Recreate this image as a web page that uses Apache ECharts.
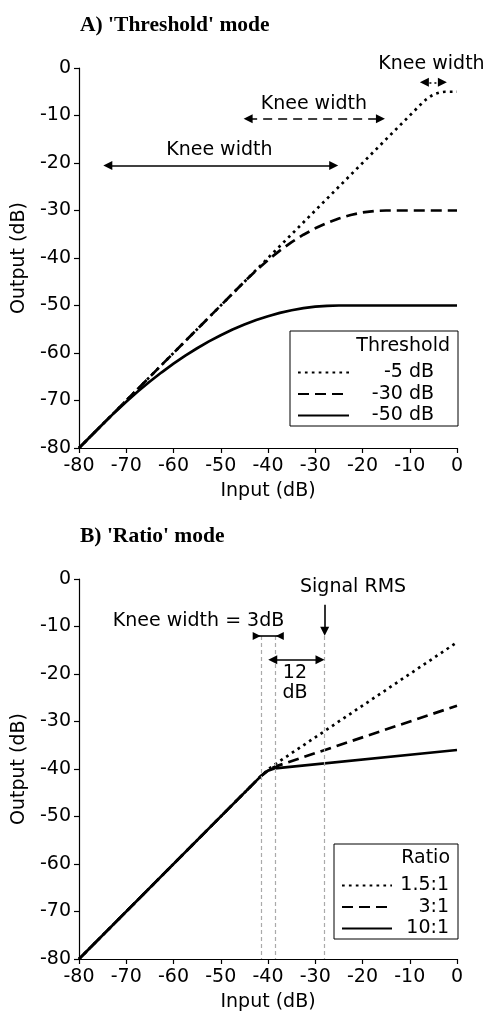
<!DOCTYPE html>
<html><head><meta charset="utf-8">
<script src="https://cdn.jsdelivr.net/npm/echarts@6/dist/echarts.min.js"></script>
<style>html,body{margin:0;padding:0;background:#fff}#c{width:489px;height:1013px}</style>
</head><body><div id="c"></div>
<script>
const FONT = 'DejaVu Sans';
// ---------- Panel A : 'Threshold' mode ----------
const thrM5_x  = [-80, -7.5, -6.5, -5.5, -5, -4.5, -3.5, -2.5, 0];
const thrM5_y  = [-80, -7.5, -6.6, -5.9, -5.63, -5.4, -5.1, -5, -5];
const thrM30_x = [-80, -45, -42.5, -40, -37.5, -35, -32.5, -30, -27.5, -25, -22.5, -20, -17.5, -15, 0];
const thrM30_y = [-80, -45, -42.6, -40.42, -38.44, -36.67, -35.1, -33.75, -32.6, -31.67, -30.94, -30.42, -30.1, -30, -30];
const thrM50_x = [-80, -75, -72.5, -70, -67.5, -65, -62.5, -60, -57.5, -55, -52.5, -50, -47.5, -45, -42.5, -40, -37.5, -35, -32.5, -30, -27.5, -25, 0];
const thrM50_y = [-80, -75, -72.56, -70.25, -68.06, -66, -64.06, -62.25, -60.56, -59, -57.56, -56.25, -55.06, -54, -53.06, -52.25, -51.56, -51, -50.56, -50.25, -50.06, -50, -50];
const thrNames = ['-5 dB', '-30 dB', '-50 dB'];
// knee-width arrows (from, to, level) and labels
const kneeArrowsA = [[-73.9, -26.1, -20.5], [-44.2, -16.2, -10.7], [-6.9, -3.1, -3]];
const kneeLabelsA = [[-50.3, -17.2, 'Knee width'], [-30.3, -7.6, 'Knee width'], [-5.4, 0.9, 'Knee width']];

// ---------- Panel B : 'Ratio' mode ----------
const ratio_x  = [-80, -41.5, -40, -38.5, 0];
const r15_y    = [-80, -41.5, -40.13, -39, -13.33];
const r3_y     = [-80, -41.5, -40.25, -39.5, -26.67];
const r10_y    = [-80, -41.5, -40.34, -39.85, -36];
const ratioNames = ['1.5:1', '3:1', '10:1'];
const guideX = [-41.5, -38.5, -28];          // grey dashed verticals
const guideTop = -12;
const labelsB = [[-54.7, -8.8, 'Knee width = 3dB'], [-22.0, -1.8, 'Signal RMS'], [-34.3, -22, '12\ndB']];

const zip = (xs, ys) => xs.map((x, i) => [x, ys[i]]);
const styles = [[2.7, 4.2], [11, 6], 'solid'];

function xAx(gi) {
  return { type: 'value', gridIndex: gi, min: -80, max: 0, interval: 10,
    name: 'Input (dB)', nameLocation: 'middle', nameGap: 34,
    nameTextStyle: { fontSize: 19, color: '#000', fontFamily: FONT },
    axisLine: { onZero: false, lineStyle: { color: '#000', width: 1.2 } },
    axisTick: { length: 5, lineStyle: { color: '#000', width: 1.2 } },
    axisLabel: { fontSize: 19, color: '#000', margin: 9, fontFamily: FONT },
    splitLine: { show: false } };
}
function yAx(gi) {
  return { type: 'value', gridIndex: gi, min: -80, max: 0, interval: 10,
    name: 'Output (dB)', nameLocation: 'middle', nameGap: 50,
    nameTextStyle: { fontSize: 19, color: '#000', fontFamily: FONT },
    axisLine: { show: true, onZero: false, lineStyle: { color: '#000', width: 1.2 } },
    axisTick: { show: true, length: 5, lineStyle: { color: '#000', width: 1.2 } },
    axisLabel: { fontSize: 19, color: '#000', margin: 8, fontFamily: FONT },
    splitLine: { show: false } };
}
function curve(name, gi, data, type, markLine) {
  const s = { name, type: 'line', xAxisIndex: gi, yAxisIndex: gi, data, symbol: 'none',
    smooth: false, animation: false, silent: true,
    color: '#000', itemStyle: { color: '#000' }, lineStyle: { color: '#000', width: 2.7, type, cap: 'butt' } };
  if (markLine) s.markLine = markLine;
  return s;
}
const inward = 'path://M0,0L10,0L5,10Z';
const ML = data => ({ silent: true, animation: false, label: { show: false }, emphasis: { disabled: true }, data });

const markA = ML(kneeArrowsA.map((a, i) => [
  { coord: [a[0], a[2]], symbol: 'triangle', symbolSize: [9, 9],
    lineStyle: { color: '#000', width: 1.6, type: i === 0 ? 'solid' : (i === 1 ? [9, 6] : [2, 3]) } },
  { coord: [a[1], a[2]], symbol: 'triangle', symbolSize: [9, 9] }]));
const markB = ML(guideX.map(x => [
  { coord: [x, guideTop], symbol: 'none', lineStyle: { color: '#aaaaaa', width: 1.2, type: [4, 3] } },
  { coord: [x, -80], symbol: 'none' }]).concat([
  [{ coord: [-42.4, -12], symbol: inward, symbolSize: [8, 8], lineStyle: { color: '#000', width: 1.6, type: 'solid' } },
   { coord: [-37.5, -12], symbol: inward, symbolSize: [8, 8] }],
  [{ coord: [-39, -17], symbol: 'triangle', symbolSize: [9, 9], lineStyle: { color: '#000', width: 1.6, type: 'solid' } },
   { coord: [-29, -17], symbol: 'triangle', symbolSize: [9, 9] }],
  [{ coord: [-28, -5.4], symbol: 'none', lineStyle: { color: '#000', width: 1.6, type: 'solid' } },
   { coord: [-28, -11], symbol: 'triangle', symbolSize: [9, 9] }]
]));

const series = [
  curve(thrNames[0], 0, zip(thrM5_x, thrM5_y), styles[0]),
  curve(thrNames[1], 0, zip(thrM30_x, thrM30_y), styles[1]),
  curve(thrNames[2], 0, zip(thrM50_x, thrM50_y), styles[2], markA),
  curve(ratioNames[0], 1, zip(ratio_x, r15_y), styles[0]),
  curve(ratioNames[1], 1, zip(ratio_x, r3_y), styles[1]),
  curve(ratioNames[2], 1, zip(ratio_x, r10_y), styles[2], markB)
];

function legend(names, left, top, iw, tw, padR) {
  return { data: names, orient: 'vertical', left, top, itemWidth: iw, itemHeight: 14, itemGap: 2.5,
    padding: [32, padR, 1, 7], borderColor: '#000', borderWidth: 1, borderRadius: 0,
    backgroundColor: '#fff', selectedMode: false,
    itemStyle: { color: 'rgba(0,0,0,0)', borderColor: 'rgba(0,0,0,0)', borderWidth: 0 },
    textStyle: { fontSize: 19, fontFamily: FONT, color: '#000',
      rich: { r: { width: tw, align: 'right', fontSize: 19, fontFamily: FONT, lineHeight: 20, color: '#000' } } },
    formatter: n => '{r|' + n + '}' };
}

const chart = echarts.init(document.getElementById('c'));
chart.setOption({
  animation: false,
  textStyle: { fontFamily: FONT },
  title: [
    { text: "A) 'Threshold' mode", left: 80, top: 14, padding: 0,
      textStyle: { fontFamily: 'Liberation Serif', fontWeight: 'bold', fontSize: 21.5, color: '#000' } },
    { text: "B) 'Ratio' mode", left: 80, top: 525, padding: 0,
      textStyle: { fontFamily: 'Liberation Serif', fontWeight: 'bold', fontSize: 21.5, color: '#000' } }
  ],
  grid: [
    { left: 79, top: 68, width: 378, height: 380 },
    { left: 79, top: 579, width: 378, height: 380 }
  ],
  xAxis: [xAx(0), xAx(1)],
  yAxis: [yAx(0), yAx(1)],
  legend: [legend(thrNames, 290, 331, 51, 80, 24), legend(ratioNames, 334, 844, 50, 52, 9)],
  series
});

const textEl = (x, y, text, align) => ({ type: 'text', x, y, z: 100, silent: true,
  style: { text, align: align || 'center', verticalAlign: 'middle', fontSize: 19, fontFamily: FONT, fill: '#000', lineHeight: 20 } });
const graphics = [textEl(450, 346, 'Threshold', 'right'), textEl(450, 858, 'Ratio', 'right')];
kneeLabelsA.forEach(a => { const p = chart.convertToPixel({ gridIndex: 0 }, [a[0], a[1]]); graphics.push(textEl(p[0], p[1], a[2])); });
labelsB.forEach(a => { const p = chart.convertToPixel({ gridIndex: 1 }, [a[0], a[1]]); graphics.push(textEl(p[0], p[1], a[2])); });
chart.setOption({ graphic: graphics });
</script></body></html>
